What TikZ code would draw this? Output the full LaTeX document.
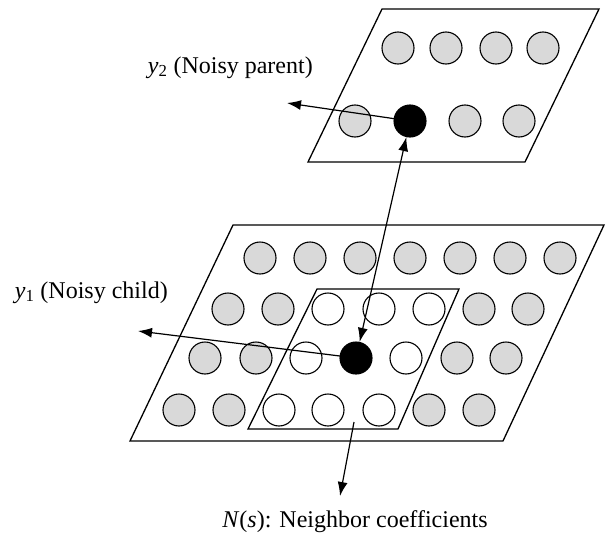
\documentclass[tikz,border=0pt]{standalone}
\usepackage{fontspec}
\setmainfont{Liberation Serif}
\usepackage{tikz}
\usetikzlibrary{arrows.meta}

\tikzset{
	coef/.style={draw, circle, fill=black!15, line width=1.1pt, inner sep=0pt, minimum size=32pt},
	nbr/.style={coef, fill=white},
	cur/.style={coef, fill=black},
	plane/.style={line width=1.3pt},
	link/.style={->, line width=1.2pt},
	lbl/.style={font=\fontsize{24}{28}\selectfont, inner sep=0pt},
	>={Latex[length=14pt,width=10pt]}
}

\begin{document}
\begin{tikzpicture}[x=1pt, y=-1pt]
		\useasboundingbox (0,0) rectangle (614,541);
		
		% parent band
		\draw[plane] (382,9) -- (599,9) -- (525,162) -- (308,162) -- cycle;
		\node[coef] (p1) at (398, 48) {};
		\node[coef] (p2) at (446, 48) {};
		\node[coef] (p3) at (496, 48) {};
		\node[coef] (p4) at (543, 48) {};
		\node[coef] (p5) at (355, 121) {};
		\node[cur] (p6) at (410, 121) {};
		\node[coef] (p7) at (465, 121) {};
		\node[coef] (p8) at (519, 121) {};
		
		% child band
		\draw[plane] (233,225) -- (604,225) -- (503,441) -- (130,441) -- cycle;
		\draw[plane] (317,289) -- (459,289) -- (398,429) -- (248,429) -- cycle;
		
		\node[coef] (c11) at (260, 258) {};
		\node[coef] (c12) at (310, 258) {};
		\node[coef] (c13) at (360, 258) {};
		\node[coef] (c14) at (410, 258) {};
		\node[coef] (c15) at (460, 258) {};
		\node[coef] (c16) at (510, 258) {};
		\node[coef] (c17) at (560, 258) {};
		
		\node[coef] (c21) at (228, 309) {};
		\node[coef] (c22) at (278, 309) {};
		\node[nbr] (c23) at (328, 309) {};
		\node[nbr] (c24) at (379, 309) {};
		\node[nbr] (c25) at (429, 309) {};
		\node[coef] (c26) at (479, 309) {};
		\node[coef] (c27) at (528, 309) {};
		
		\node[coef] (c31) at (205, 358) {};
		\node[coef] (c32) at (256, 358) {};
		\node[nbr] (c33) at (306, 358) {};
		\node[cur] (c34) at (356, 358) {};
		\node[nbr] (c35) at (406, 358) {};
		\node[coef] (c36) at (457, 358) {};
		\node[coef] (c37) at (506, 358) {};
		
		\node[coef] (c41) at (179, 410) {};
		\node[coef] (c42) at (229, 410) {};
		\node[nbr] (c43) at (279, 410) {};
		\node[nbr] (c44) at (328, 410) {};
		\node[nbr] (c45) at (379, 410) {};
		\node[coef] (c46) at (429, 410) {};
		\node[coef] (c47) at (479, 410) {};
		
		% labels
		\node[lbl, anchor=base east] (ypar) at (313, 73) {\textit{y}\textsubscript{2} (Noisy parent)};
		\node[lbl, anchor=base east] (ychi) at (168, 298) {\textit{y}\textsubscript{1} (Noisy child)};
		\node[lbl, anchor=base] (nbhd) at (355, 527) {\textit{N}(\textit{s}): Neighbor coefficients};
		
		\coordinate (parend) at (287, 103);
		\coordinate (chiend) at (138, 331);
		\coordinate (nbstart) at (354, 422);
		\coordinate (nbend) at (340, 496);
		
		\draw[link] (p6.center) -- (parend);
		\draw[link] (c34.center) -- (chiend);
		\draw[link, <->] (p6) -- (c34);
		\draw[link] (nbstart) -- (nbend);
\end{tikzpicture}
\end{document}
